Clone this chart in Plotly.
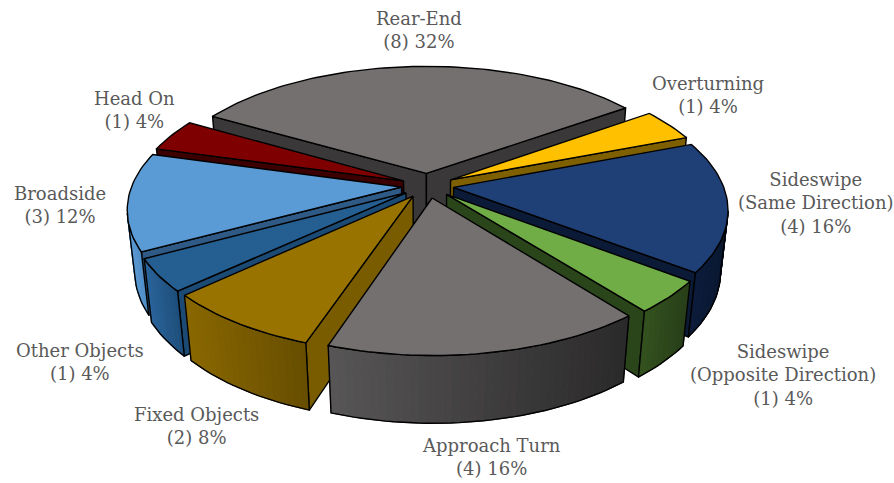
import numpy as np
import plotly.graph_objects as go

categories = ["Rear-End", "Overturning", "Sideswipe<br>(Same Direction)", "Sideswipe<br>(Opposite Direction)",
              "Approach Turn", "Fixed Objects", "Other Objects", "Broadside", "Head On"]
counts = [8, 1, 4, 1, 4, 2, 1, 3, 1]
percents = [32, 4, 16, 4, 16, 8, 4, 12, 4]

top_colors = ["#747070", "#ffc000", "#1f3f77", "#70ad47", "#747070", "#997300", "#255e91", "#5b9bd5", "#7f0000"]
radial_colors = ["#3a3838", "#7f6000", "#0b1a36", "#2a451a", "#3a3838", "#7a5c00", "#1b4a75", "#2e5a85", "#3d0000"]
arc_left = ["#3a3838", "#7f6000", "#0b1c3c", "#36571f", "#585656", "#8a6800", "#2a659c", "#5b9bd5", "#3d0000"]
arc_right = ["#3a3838", "#7f6000", "#0a1730", "#283f19", "#2b2a2a", "#664d00", "#1c4a75", "#4a85be", "#3d0000"]
label_x = [419, 708, 816, 783, 491, 196, 80, 60, 134]
label_y = [30, 95, 203, 375, 457, 426, 362, 205, 110]

# camera / layout parameters
CX, CY = 427.6, 185.6
ELEV = 0.823
DIST, FOCAL_X, FOCAL_Y = 4.243, 1144.0, 740.0
HEIGHT = 0.52
DEPTH_K = 0.20
RADIUS = 1.0
EXPLODE = 0.097
START = -60.3
S, C = np.sin(ELEV), np.cos(ELEV)
CAM_V = DIST / C


def project(u, v, z):
    depth = DIST - v * C - z * DEPTH_K
    return CX + FOCAL_X * u / depth, CY + FOCAL_Y * (v * S - z * C) / depth


def hex_mix(a, b, t):
    ca = [int(a[i:i + 2], 16) for i in (1, 3, 5)]
    cb = [int(b[i:i + 2], 16) for i in (1, 3, 5)]
    return "#%02x%02x%02x" % tuple(round(x + (y - x) * t) for x, y in zip(ca, cb))


fig = go.Figure()


def poly(xs, ys, fill, line=True):
    fig.add_trace(go.Scatter(
        x=list(xs) + [xs[0]], y=list(ys) + [ys[0]], mode="lines", fill="toself", fillcolor=fill,
        line=dict(color="#000000" if line else fill, width=1.4 if line else 1.0),
        hoverinfo="skip", showlegend=False))


total = sum(counts)
edges = START + np.concatenate([[0], np.cumsum(counts)]) * 360.0 / total
wedges = []
for i in range(len(counts)):
    a0, a1 = np.radians(edges[i]), np.radians(edges[i + 1])
    mid = (a0 + a1) / 2
    wedges.append((-np.cos(mid), i, a0, a1, mid))

for _, i, a0, a1, mid in sorted(wedges):
    ou, ov = EXPLODE * np.sin(mid), -EXPLODE * np.cos(mid)
    th = np.linspace(a0, a1, max(10, int((a1 - a0) * 40)))
    au = ou + RADIUS * np.sin(th)
    av = ov - RADIUS * np.cos(th)
    tx, ty = project(au, av, 0)
    bx, by = project(au, av, -HEIGHT)
    ax, ay = project(ou, ov, 0)
    apx, apy = project(ou, ov, -HEIGHT)

    # radial faces, only those turned towards the camera
    normals = [(-np.cos(a0), -np.sin(a0), 0), (np.cos(a1), np.sin(a1), -1)]
    for nu, nv, idx in normals:
        if nu * (0 - ou) + nv * (CAM_V - ov) > 0:
            poly([ax, tx[idx], bx[idx], apx], [ay, ty[idx], by[idx], apy], radial_colors[i])

    # outer face, only the part turned towards the camera, with a horizontal gradient
    facing = np.sin(th) * (0 - au) - np.cos(th) * (CAM_V - av) > 0
    if facing.sum() >= 2:
        vis = np.where(facing)[0]
        vis = np.arange(vis[0], vis[-1] + 1)
        xmin, xmax = min(tx[vis].min(), bx[vis].min()), max(tx[vis].max(), bx[vis].max())
        for k in vis[:-1]:
            t = (tx[k] - xmin) / max(xmax - xmin, 1)
            col = hex_mix(arc_left[i], arc_right[i], t)
            poly([tx[k], tx[k + 1], bx[k + 1], bx[k]], [ty[k], ty[k + 1], by[k + 1], by[k]], col, line=False)
        poly(list(tx[vis]) + list(bx[vis][::-1]), list(ty[vis]) + list(by[vis][::-1]), "rgba(0,0,0,0)")

    poly([ax] + list(tx), [ay] + list(ty), top_colors[i])

for i, name in enumerate(categories):
    fig.add_annotation(x=label_x[i], y=label_y[i], text=f"{name}<br>({counts[i]}) {percents[i]}%",
                       showarrow=False, xanchor="center", yanchor="middle",
                       font=dict(family="DejaVu Serif", size=18, color="#595959"))

fig.update_layout(
    width=894, height=483, margin=dict(l=0, r=0, t=0, b=0), paper_bgcolor="white", plot_bgcolor="white",
    showlegend=False,
    xaxis=dict(range=[0, 894], visible=False, fixedrange=True),
    yaxis=dict(range=[483, 0], visible=False, fixedrange=True))
fig.write_html("out.html", config={"displayModeBar": False}, post_script="document.body.style.margin='0';")
